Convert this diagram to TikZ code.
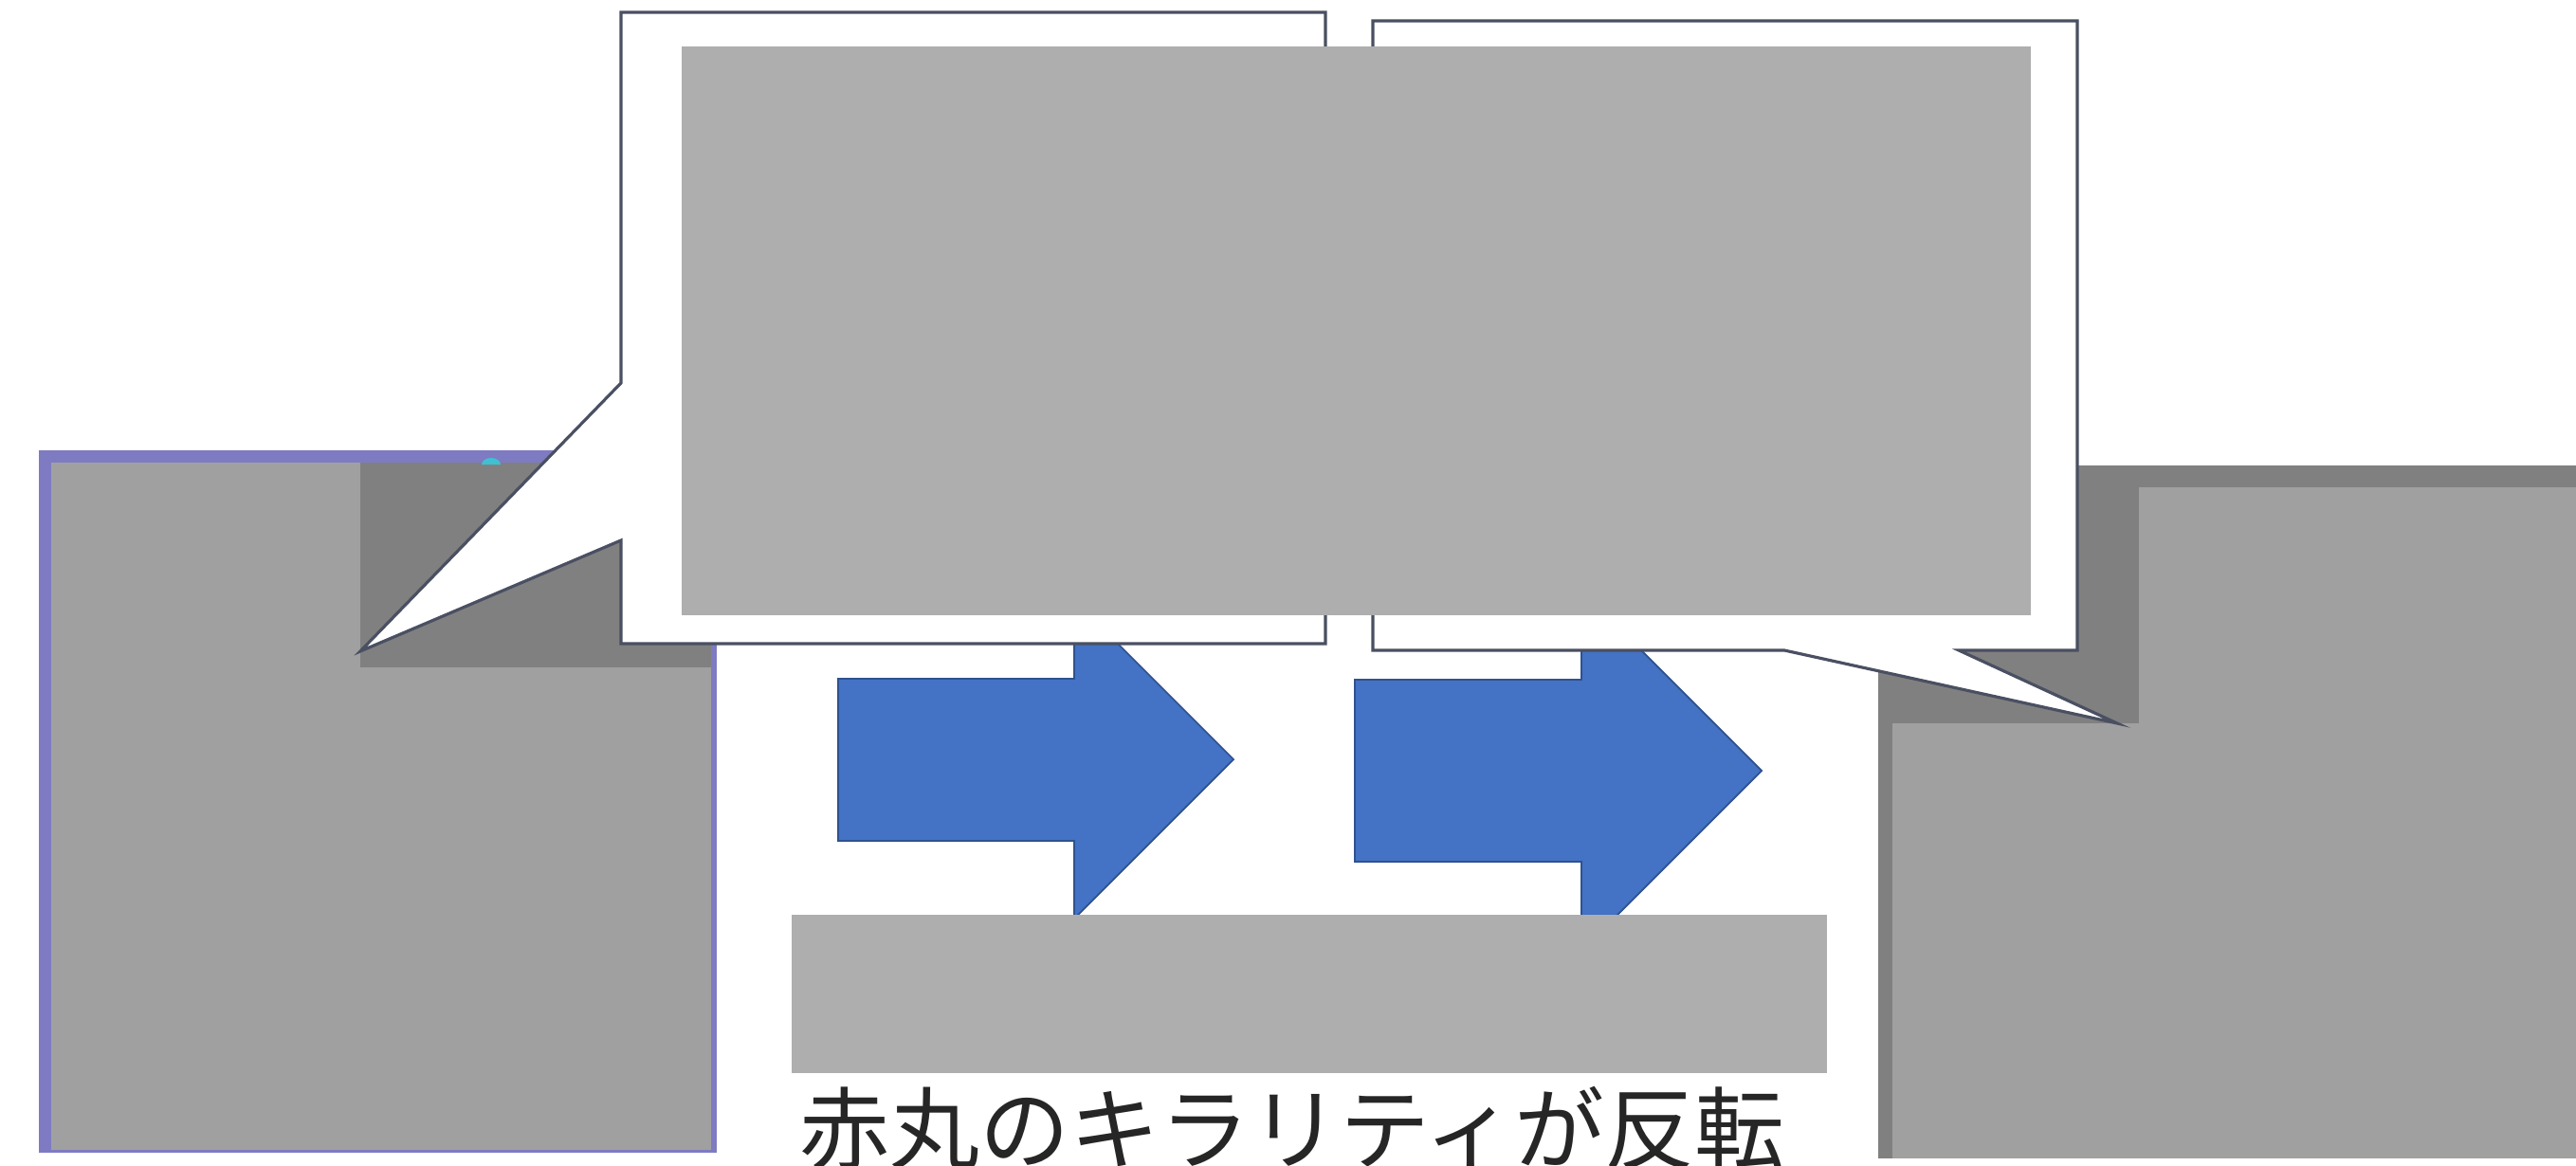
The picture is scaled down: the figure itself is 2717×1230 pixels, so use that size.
\documentclass[tikz,border=0pt]{standalone}
\usepackage{fontspec}
\newfontfamily\jpfont{Noto Sans CJK JP}
\definecolor{imgpurple}{HTML}{7E7BC2}
\definecolor{imggray}{HTML}{A0A0A0}
\definecolor{imgdark}{HTML}{808080}
\definecolor{boxgray}{HTML}{AEAEAE}
\definecolor{calloutline}{HTML}{4A5062}
\definecolor{arrowblue}{HTML}{4472C4}
\definecolor{arrowline}{HTML}{2F528F}
\definecolor{dotcyan}{HTML}{40C0D0}
\tikzset{
  calloutshape/.style={fill=white, draw=calloutline, line width=0.9pt, line join=miter},
  blockarrow/.style={fill=arrowblue, draw=arrowline, line width=0.5pt, line join=miter},
  placeholder/.style={fill=boxgray},
  caption/.style={font=\jpfont\fontsize{27pt}{30pt}\selectfont, inner sep=0pt, text=black!85}
}
\begin{document}
\begin{tikzpicture}[x=0.01cm, y=-0.01cm]
\useasboundingbox (0,0) rectangle (2717,1230);
\fill[white] (0,0) rectangle (2717,1230);
% left image
\fill[imgpurple] (41,475) rectangle (756,1216);
\fill[imggray] (54,488) rectangle (750,1213);
\fill[imgdark] (380,488) rectangle (750,704);
\fill[dotcyan] (508,490) arc[start angle=180, end angle=0, x radius=10, y radius=-7] -- cycle;
% right image
\fill[imgdark] (1981,491) rectangle (2717,1222);
\fill[imggray] (1996,763) rectangle (2717,1222);
\fill[imggray] (2256,514) rectangle (2717,1222);
% block arrows
\draw[blockarrow] (884,716) -- (1133,716) -- (1133,633) -- (1301,801) -- (1133,969) -- (1133,887) -- (884,887) -- cycle;
\draw[blockarrow] (1429,717) -- (1668,717) -- (1668,623) -- (1858,813) -- (1668,1003) -- (1668,909) -- (1429,909) -- cycle;
% callouts
\draw[calloutshape] (655,13) -- (1398,13) -- (1398,679) -- (655,679) -- (655,570) -- (380,687) -- (655,404) -- cycle;
\draw[calloutshape] (1448,22) -- (2191,22) -- (2191,686) -- (2066,686) -- (2233,763) -- (1882,686) -- (1448,686) -- cycle;
% placeholders
\fill[placeholder] (719,49) rectangle (2142,649);
\fill[placeholder] (835,965) rectangle (1927,1132);
% caption
\node[caption] (cap) at (1363,1190) {赤丸のキラリティが反転};
\end{tikzpicture}
\end{document}
